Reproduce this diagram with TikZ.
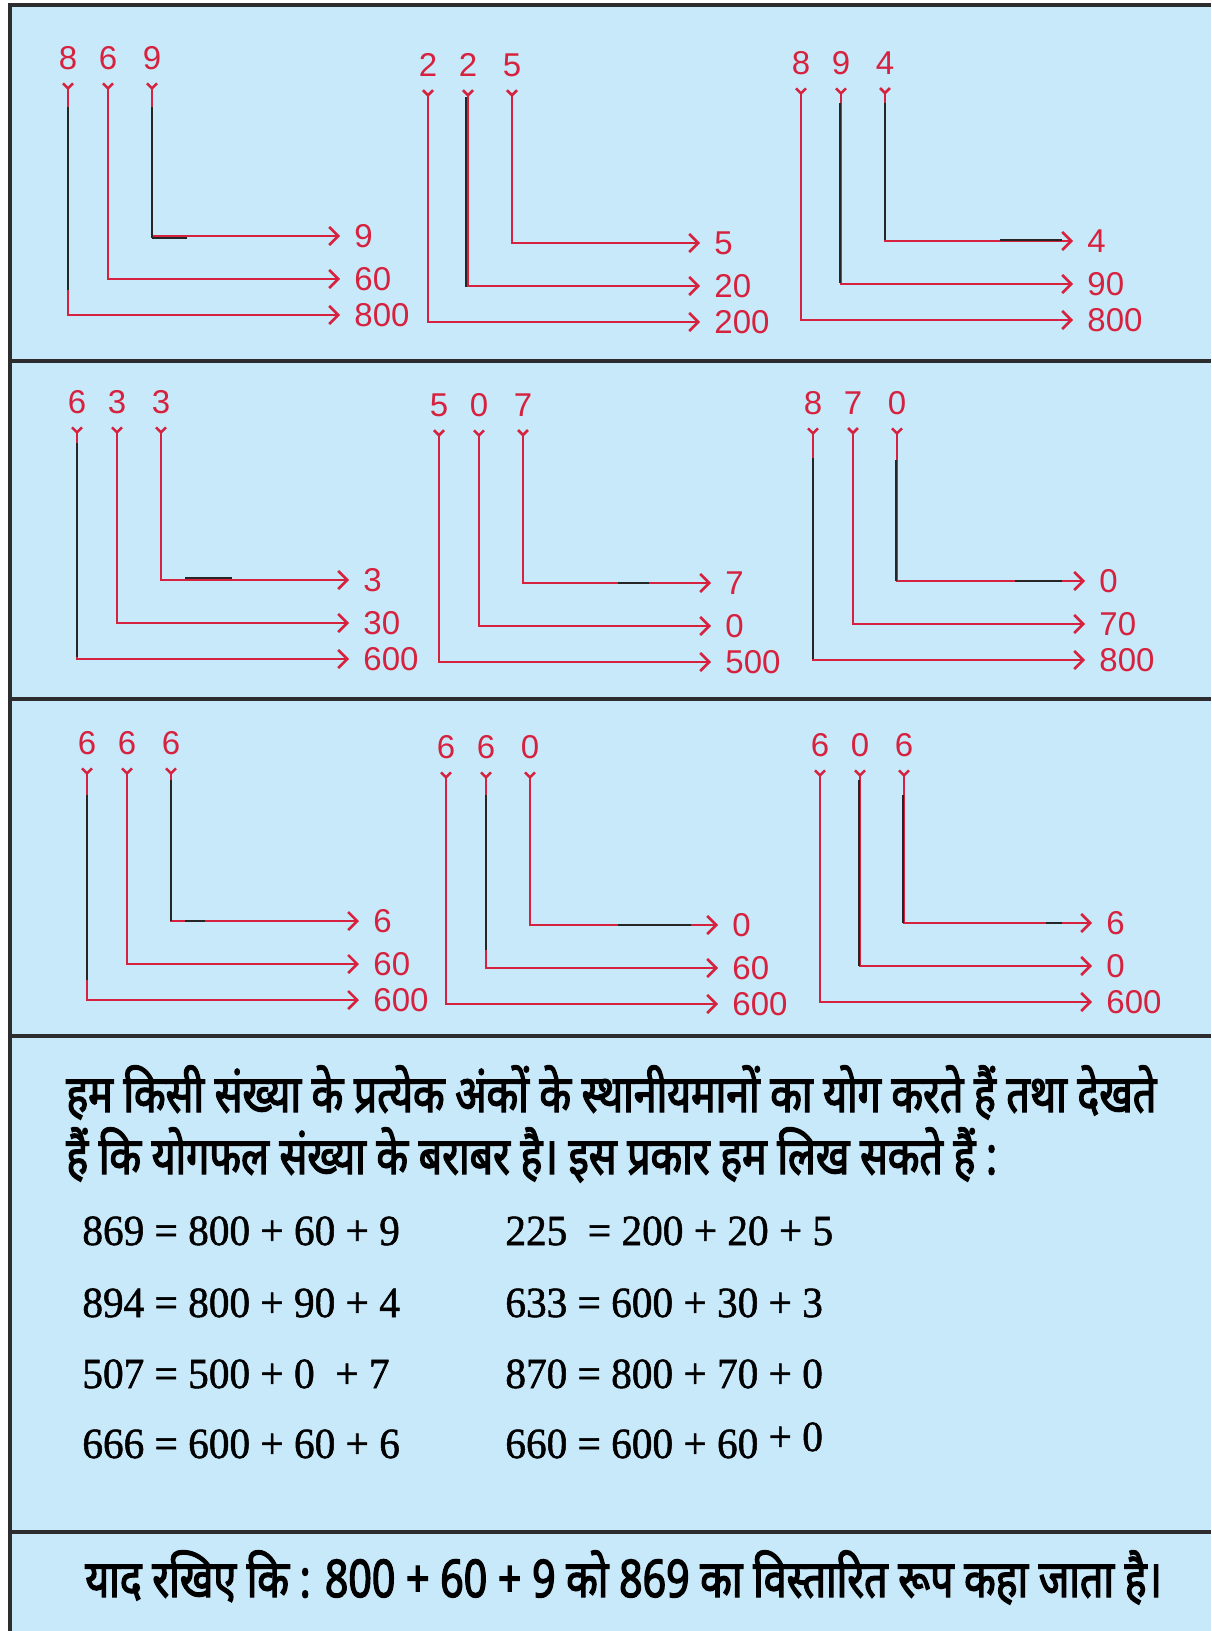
\documentclass[tikz,border=0pt]{standalone}
\usepackage{fontspec}
\setmainfont{Liberation Serif}
\newfontfamily\sumfont[FakeBold=1.2, FakeStretch=0.96]{Liberation Serif}
\newfontfamily\digitfont{Liberation Sans}
\newfontfamily\hindifont[Script=Devanagari, FakeStretch=0.79, FakeBold=2.5]{Noto Sans}
\usetikzlibrary{arrows.meta, positioning, calc}
\definecolor{panelblue}{RGB}{200,233,250}
\definecolor{placered}{RGB}{214,34,62}
\definecolor{framegray}{RGB}{45,45,48}

\begin{document}
\begin{tikzpicture}[
    x=0.5pt, y=-0.5pt,
    digit/.style={inner sep=1pt, text=placered, font=\digitfont\fontsize{16.5}{16.5}\selectfont},
    value/.style={digit, anchor=west},
    place/.style={draw=placered, line width=1.3pt,
                  {Straight Barb[reversed, length=2.5pt, width=5pt]}-{Straight Barb[length=4.5pt, width=9pt]},
                  shorten <=5pt, shorten >=6pt},
    inkmark/.style={draw=black!85, line width=1.3pt},
    divider/.style={draw=framegray, line width=2pt},
    sumline/.style={anchor=base west, inner sep=0pt, font=\sumfont\fontsize{21.5}{21.5}\selectfont},
    hinditext/.style={anchor=base west, inner sep=0pt, font=\hindifont\fontsize{26}{26}\selectfont}
]
\useasboundingbox (0,0) rectangle (1211,1631);
\fill[panelblue] (10,5) rectangle (1211,1631);

% frame and dividers
\draw[divider] (10,5) -- (10,1631);
\draw[divider] (8,5) -- (1211,5);
\foreach \yy in {361, 699, 1036, 1532}
  \draw[divider] (8,\yy) -- (1211,\yy);

% place value diagrams
\foreach \tag/\x/\y/\da/\db/\dc/\va/\vb/\vc in {
    869/68/58/8/6/9/9/60/800,
    225/428/65/2/2/5/5/20/200,
    894/801/63/8/9/4/4/90/800,
    633/77/402/6/3/3/3/30/600,
    507/439/405/5/0/7/7/0/500,
    870/813/403/8/7/0/0/70/800,
    666/87/743/6/6/6/6/60/600,
    660/446/747/6/6/0/0/60/600,
    606/820/745/6/0/6/6/0/600}{
  \node[digit] (d\tag-3) at (\x,\y) {\da};
  \node[digit] (d\tag-2) at ({\x+40},\y) {\db};
  \node[digit] (d\tag-1) at ({\x+84},\y) {\dc};
  \node[value] (v\tag-1) at ({\x+284},{\y+178}) {\va};
  \node[value] (v\tag-2) at ({\x+284},{\y+221}) {\vb};
  \node[value] (v\tag-3) at ({\x+284},{\y+257}) {\vc};
  \draw[place] (d\tag-1) |- (v\tag-1);
  \draw[place] (d\tag-2) |- (v\tag-2);
  \draw[place] (d\tag-3) |- (v\tag-3);
}

% dark print marks on some lines
\foreach \ax/\ay/\bx/\by in {
    68/107/68/290, 152/107/152/238, 152/238/187/238,
    466/97/466/287, 840/103/840/283, 885/103/885/240, 1000/240/1062/240,
    77/443/77/657, 185/578/232/578, 618/583/649/583,
    813/458/813/659, 896/460/896/581, 1015/581/1062/581,
    87/795/87/980, 171/780/171/921, 185/921/205/921,
    486/795/486/950, 618/925/691/925,
    859/780/859/966, 903/795/903/923, 1046/923/1062/923}
  \draw[inkmark] (\ax,\ay) -- (\bx,\by);

% explanation
\node[hinditext] (say1) at (66,1112) {हम किसी संख्या के प्रत्येक अंकों के स्थानीयमानों का योग करते हैं तथा देखते};
\node[hinditext] (say2) at (66,1174) {हैं कि योगफल संख्या के बराबर है। इस प्रकार हम लिख सकते हैं :};

\node[sumline] (s869) at (82,1245) {869 = 800 + 60 + 9};
\node[sumline] (s225) at (505,1245) {225\ \ = 200 + 20 + 5};
\node[sumline] (s894) at (82,1317) {894 = 800 + 90 + 4};
\node[sumline] (s633) at (505,1317) {633 = 600 + 30 + 3};
\node[sumline] (s507) at (82,1388) {507 = 500 + 0\ \ + 7};
\node[sumline] (s870) at (505,1388) {870 = 800 + 70 + 0};
\node[sumline] (s666) at (82,1458) {666 = 600 + 60 + 6};
\node[sumline] (s660) at (505,1458) {660 = 600 + 60 \raisebox{3.5pt}{+ 0}};

\node[hinditext] (note) at (85,1597) {याद रखिए कि : 800 + 60 + 9 को 869 का विस्तारित रूप कहा जाता है।};

\end{tikzpicture}
\end{document}
